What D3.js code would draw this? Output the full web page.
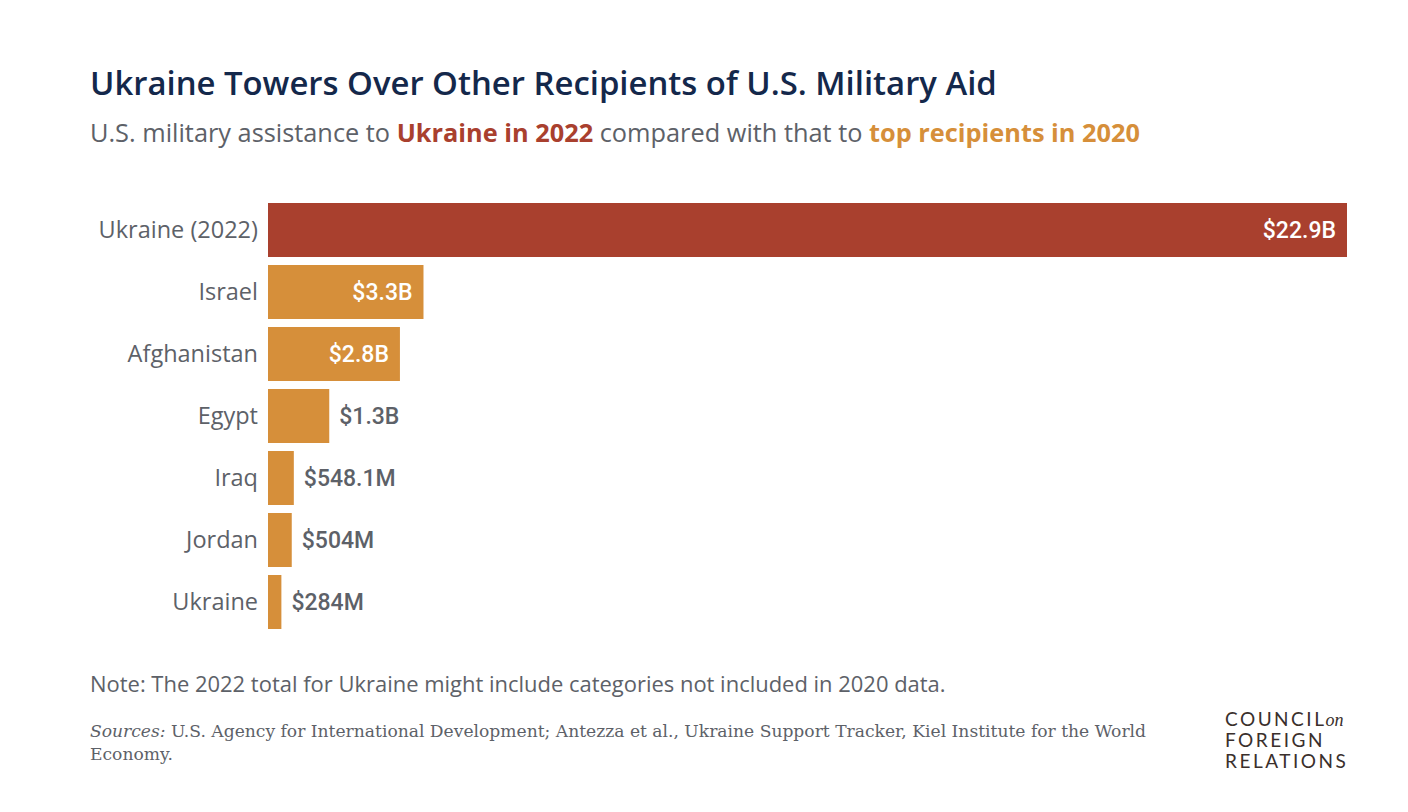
<!DOCTYPE html>
<html>
<head>
<meta charset="utf-8">
<script src="https://cdn.jsdelivr.net/npm/d3@7"></script>
<style>
  body { margin: 0; background: #fff; }
  svg { display: block; }
</style>
</head>
<body>
<div id="container"></div>
<script>
// chart data
var countries = ['Ukraine (2022)', 'Israel', 'Afghanistan', 'Egypt', 'Iraq', 'Jordan', 'Ukraine'];
var aid = [22.9, 3.3, 2.8, 1.3, 0.5481, 0.504, 0.284]; // billions USD
var aidLabels = ['$22.9B', '$3.3B', '$2.8B', '$1.3B', '$548.1M', '$504M', '$284M'];
var years = [2022, 2020, 2020, 2020, 2020, 2020, 2020];

var width = 1408, height = 812;
var red = '#a9402e', orange = '#d68f3a', grey = '#5d6168', navy = '#14284b';
var sans = '"Open Sans", Lato, sans-serif';
var serif = '"DejaVu Serif", "Liberation Serif", serif';

var svg = d3.select('#container').append('svg')
  .attr('width', width)
  .attr('height', height);

// shrink/grow a text's font so it spans the given width
function fit(sel, target) {
  var fs = +sel.attr('font-size');
  var w = sel.node().getComputedTextLength();
  sel.attr('font-size', (fs * target / w).toFixed(2));
}

// title + subtitle
var title = svg.append('text')
  .attr('x', 90).attr('y', 95)
  .attr('font-family', sans)
  .attr('font-size', 32)
  .attr('font-weight', 600)
  .attr('fill', navy)
  .text('Ukraine Towers Over Other Recipients of U.S. Military Aid');
fit(title, 907);

var sub = svg.append('text')
  .attr('x', 90).attr('y', 142)
  .attr('font-family', sans)
  .attr('font-size', 24)
  .attr('fill', grey);
sub.append('tspan').text('U.S. military assistance to ');
sub.append('tspan').attr('fill', red).attr('font-weight', 700).text('Ukraine in 2022');
sub.append('tspan').text(' compared with that to ');
sub.append('tspan').attr('fill', orange).attr('font-weight', 700).text('top recipients in 2020');
fit(sub, 1050);

// scales
var x = d3.scaleLinear()
  .domain([0, 22.9])
  .range([268, 1347]);

var y = d3.scaleBand()
  .domain(countries)
  .range([199, 633])
  .paddingInner(8 / 62)
  .paddingOuter(4 / 62);

var rows = countries.map(function(c, i) {
  return { name: c, value: aid[i], label: aidLabels[i], year: years[i] };
});

var groups = svg.selectAll('g.bar')
  .data(rows)
  .enter().append('g')
  .classed('bar', true);

groups.append('rect')
  .attr('x', x(0))
  .attr('y', function(d) { return y(d.name); })
  .attr('width', function(d) { return x(d.value) - x(0); })
  .attr('height', y.bandwidth())
  .attr('fill', function(d) { return d.year === 2022 ? red : orange; });

// category labels
groups.append('text')
  .attr('x', x(0) - 10)
  .attr('y', function(d) { return y(d.name) + y.bandwidth() / 2; })
  .attr('dy', '0.35em')
  .attr('text-anchor', 'end')
  .attr('font-family', sans)
  .attr('font-size', 23.5)
  .attr('fill', grey)
  .text(function(d) { return d.name; });

// value labels, inside when the bar is wide enough
groups.append('text')
  .each(function(d) {
    var inside = d.value >= 2;
    d3.select(this)
      .attr('x', inside ? x(d.value) - 11 : x(d.value) + 10)
      .attr('text-anchor', inside ? 'end' : 'start')
      .attr('fill', inside ? '#fff' : grey);
  })
  .attr('y', function(d) { return y(d.name) + y.bandwidth() / 2; })
  .attr('dy', '0.35em')
  .attr('font-family', 'Roboto, sans-serif')
  .attr('font-size', 23)
  .attr('font-weight', 500)
  .text(function(d) { return d.label; });

// note + sources
var note = svg.append('text')
  .attr('x', 90).attr('y', 692)
  .attr('font-family', sans)
  .attr('font-size', 20)
  .attr('fill', grey)
  .text('Note: The 2022 total for Ukraine might include categories not included in 2020 data.');
fit(note, 856);

var src1 = svg.append('text')
  .attr('x', 90).attr('y', 737)
  .attr('font-family', serif)
  .attr('font-size', 17)
  .attr('fill', grey);
src1.append('tspan').attr('font-style', 'italic').text('Sources:');
src1.append('tspan').text(' U.S. Agency for International Development; Antezza et al., Ukraine Support Tracker, Kiel Institute for the World');
fit(src1, 1057);

svg.append('text')
  .attr('x', 90).attr('y', 760)
  .attr('font-family', serif)
  .attr('font-size', src1.attr('font-size'))
  .attr('fill', grey)
  .text('Economy.');

// logo
var logo = svg.append('g')
  .attr('font-family', 'Lato, sans-serif')
  .attr('font-size', 19)
  .attr('fill', '#3a2f2c')
  .attr('letter-spacing', 2.5);
logo.append('text').attr('x', 1225).attr('y', 726).text('COUNCIL')
  .append('tspan')
  .attr('font-family', '"Liberation Serif", serif')
  .attr('font-style', 'italic')
  .attr('letter-spacing', 0)
  .attr('font-size', 18)
  .attr('dx', -1)
  .text('on');
logo.append('text').attr('x', 1225).attr('y', 747).text('FOREIGN');
logo.append('text').attr('x', 1225).attr('y', 768).text('RELATIONS');
</script>
</body>
</html>
